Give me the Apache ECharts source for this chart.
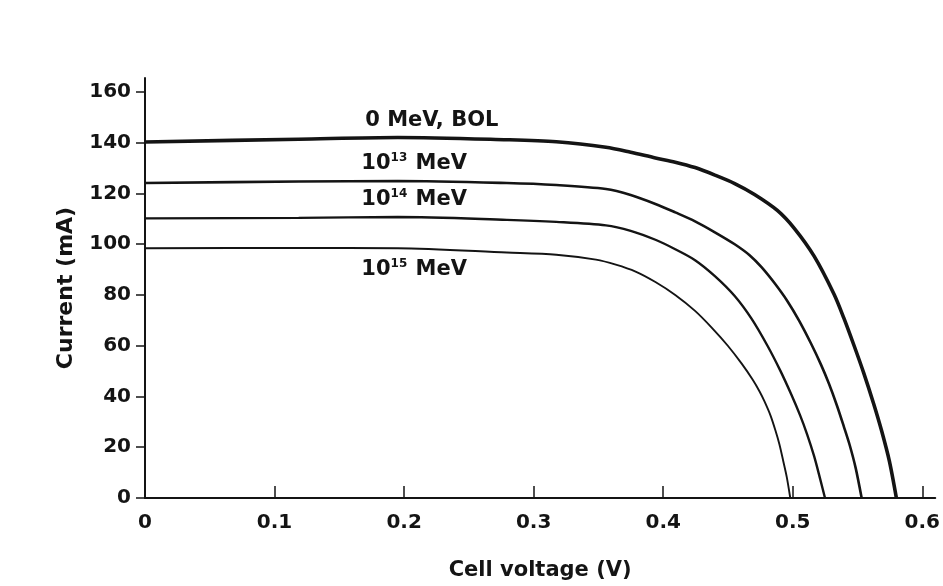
<!DOCTYPE html>
<html>
<head>
<meta charset="utf-8">
<script src="https://cdn.jsdelivr.net/npm/echarts@6/dist/echarts.min.js"></script>
<style>
  html, body { margin: 0; padding: 0; background: #fff; }
  #chart { width: 943px; height: 586px; }
</style>
</head>
<body>
<div id="chart"></div>
<script>
// I-V curves of a solar cell before and after irradiation: [voltage (V), current (mA)]
const curveBOL = [
  [0, 140.31], [0.1186, 141.37], [0.1951, 142.08], [0.2793, 141.18], [0.3175, 140.39],
  [0.3558, 138.24], [0.3749, 136.27], [0.3940, 134.0], [0.4093, 132.35], [0.4246, 130.2],
  [0.4399, 127.25], [0.4552, 123.92], [0.4705, 119.61], [0.4881, 113.33], [0.5012, 106.27],
  [0.5165, 95.29], [0.5318, 80.39], [0.5394, 70.98], [0.5471, 60.39], [0.5547, 49.41],
  [0.5624, 37.25], [0.5685, 26.67], [0.5746, 14.51], [0.5800, 0]
];
const curve1e13 = [
  [0, 124.12], [0.1186, 124.71], [0.1951, 124.9], [0.2793, 124.12], [0.3175, 123.33],
  [0.3558, 121.76], [0.3749, 119.41], [0.3940, 115.88], [0.4093, 112.55], [0.4246, 109.02],
  [0.4399, 104.71], [0.4552, 100.0], [0.4667, 95.69], [0.4759, 90.98], [0.4859, 84.71],
  [0.4958, 77.65], [0.5050, 69.8], [0.5142, 60.78], [0.5218, 52.55], [0.5279, 45.1],
  [0.5341, 36.47], [0.5394, 28.24], [0.5440, 20.78], [0.5486, 11.76], [0.5532, 0]
];
const curve1e14 = [
  [0, 110.2], [0.1186, 110.39], [0.1951, 110.71], [0.2793, 109.61], [0.3175, 108.82],
  [0.3558, 107.45], [0.3749, 105.29], [0.3940, 101.76], [0.4093, 98.04], [0.4246, 93.73],
  [0.4399, 87.45], [0.4552, 79.61], [0.4683, 70.59], [0.4805, 60.0], [0.4904, 50.2],
  [0.4989, 40.78], [0.5057, 32.55], [0.5111, 25.1], [0.5165, 16.47], [0.5210, 7.84], [0.5249, 0]
];
const curve1e15 = [
  [0, 98.43], [0.1186, 98.55], [0.1951, 98.43], [0.2793, 96.75], [0.3175, 95.88],
  [0.3481, 93.92], [0.3634, 91.96], [0.3787, 89.22], [0.3940, 85.1], [0.4093, 80.0],
  [0.4246, 73.73], [0.4376, 67.06], [0.4499, 60.0], [0.4606, 52.94], [0.4690, 46.67],
  [0.4744, 41.96], [0.4782, 38.04], [0.4828, 32.55], [0.4866, 26.67], [0.4897, 21.18],
  [0.4927, 14.51], [0.4954, 8.24], [0.4981, 0]
];

// Curve labels and where they sit (voltage, current at the text's left middle)
const labelTexts = ['0 MeV, BOL', '10{sup|13} MeV', '10{sup|14} MeV', '10{sup|15} MeV'];
const labelAt = [[0.170, 148.8], [0.167, 131.8], [0.167, 117.6], [0.167, 90.2]];

const xTicks = [0, 0.1, 0.2, 0.3, 0.4, 0.5, 0.6];
const yTicks = [0, 20, 40, 60, 80, 100, 120, 140, 160];

const FONT = 'DejaVu Sans';
const INK = '#141414';

function makeSeries(name, data, width, idx) {
  return {
    name: name,
    type: 'line',
    data: data,
    smooth: 0.3,
    showSymbol: false,
    lineStyle: { color: INK, width: width },
    markPoint: {
      symbol: 'circle',
      symbolSize: 0,
      data: [{ coord: labelAt[idx] }],
      label: {
        show: true,
        position: 'right',
        distance: 0,
        formatter: labelTexts[idx],
        fontFamily: FONT,
        fontWeight: 'bold',
        fontSize: 21,
        lineHeight: 23,
        color: INK,
        rich: {
          sup: { fontFamily: FONT, fontWeight: 'bold', fontSize: 12, lineHeight: 13, color: INK, verticalAlign: 'top', padding: [0, 1, 0, 0] }
        }
      }
    }
  };
}

const chart = echarts.init(document.getElementById('chart'), null, { renderer: 'canvas' });
chart.setOption({
  backgroundColor: '#ffffff',
  animation: false,
  grid: { left: 145, right: 1, top: 78, bottom: 86 },
  xAxis: {
    type: 'value',
    min: 0,
    max: 0.61,
    interval: 0.1,
    name: 'Cell voltage (V)',
    nameLocation: 'middle',
    nameGap: 62,
    nameTextStyle: { fontFamily: FONT, fontWeight: 'bold', fontSize: 21, color: INK },
    axisLine: { lineStyle: { color: INK, width: 2 } },
    axisTick: { inside: true, length: 12, lineStyle: { color: INK, width: 1.5 }, customValues: xTicks },
    axisLabel: {
      customValues: xTicks,
      fontFamily: FONT, fontWeight: 'bold', fontSize: 20, color: INK, margin: 15,
      formatter: v => (v === 0 ? '0' : v.toFixed(1))
    },
    splitLine: { show: false }
  },
  yAxis: {
    type: 'value',
    min: 0,
    max: 165.5,
    interval: 20,
    name: 'Current (mA)',
    nameLocation: 'middle',
    nameGap: 68,
    nameTextStyle: { fontFamily: FONT, fontWeight: 'bold', fontSize: 22, color: INK },
    axisLine: { show: true, lineStyle: { color: INK, width: 2 } },
    axisTick: { show: true, length: 9, lineStyle: { color: INK, width: 1.5 }, customValues: yTicks },
    axisLabel: { customValues: yTicks, fontFamily: FONT, fontWeight: 'bold', fontSize: 20, color: INK, margin: 14 },
    splitLine: { show: false }
  },
  series: [
    makeSeries('0 MeV, BOL', curveBOL, 3.6, 0),
    makeSeries('1e13 MeV', curve1e13, 2.6, 1),
    makeSeries('1e14 MeV', curve1e14, 2.4, 2),
    makeSeries('1e15 MeV', curve1e15, 1.9, 3)
  ]
});
</script>
</body>
</html>
